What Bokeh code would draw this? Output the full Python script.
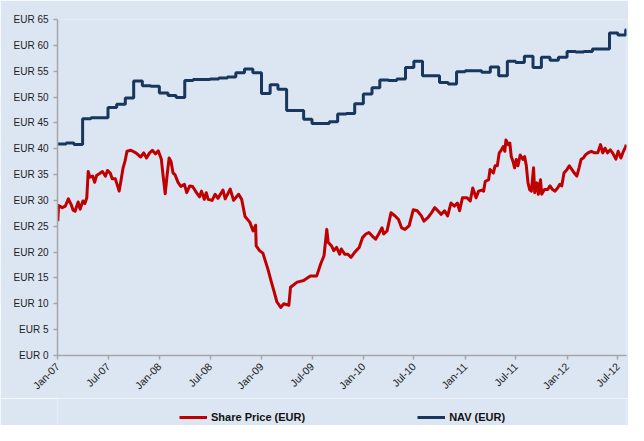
import math
import pandas as pd
from bokeh.plotting import figure
from bokeh.layouts import column
from bokeh.models import (ColumnDataSource, Range1d, FixedTicker, PrintfTickFormatter,
                          DatetimeTickFormatter, Legend, LegendItem)
from bokeh.embed import file_html
from bokeh.resources import INLINE

share_dates = [
    "2007-01-02", "2007-01-05", "2007-01-18", "2007-01-29", "2007-02-09", "2007-02-19", "2007-02-26",
    "2007-03-05", "2007-03-16", "2007-03-23", "2007-04-02", "2007-04-09", "2007-04-16", "2007-04-21",
    "2007-04-27", "2007-05-07", "2007-05-14", "2007-05-21", "2007-06-01", "2007-06-11", "2007-06-22",
    "2007-06-29", "2007-07-09", "2007-07-16", "2007-07-27", "2007-08-03", "2007-08-10", "2007-08-17",
    "2007-08-24", "2007-08-31", "2007-09-07", "2007-09-21", "2007-10-09", "2007-10-26", "2007-11-06",
    "2007-11-16", "2007-11-27", "2007-12-07", "2007-12-18", "2007-12-28",
    "2008-01-08", "2008-01-15", "2008-01-22", "2008-01-29", "2008-02-05", "2008-02-12", "2008-02-19",
    "2008-02-26", "2008-03-08", "2008-03-18", "2008-03-31", "2008-04-08", "2008-04-19", "2008-04-29",
    "2008-05-06", "2008-05-13", "2008-05-24", "2008-05-31", "2008-06-10", "2008-06-17", "2008-06-24",
    "2008-07-08", "2008-07-19", "2008-07-29", "2008-08-16", "2008-08-24", "2008-09-11", "2008-09-23",
    "2008-10-11", "2008-10-22", "2008-11-03", "2008-11-20", "2008-12-02", "2008-12-11", "2008-12-13",
    "2008-12-25",
    "2009-01-06", "2009-01-24", "2009-02-04", "2009-02-16", "2009-02-25", "2009-03-11", "2009-03-22",
    "2009-04-09", "2009-04-15", "2009-05-09", "2009-06-01", "2009-06-25", "2009-07-18", "2009-08-01",
    "2009-08-13", "2009-08-23", "2009-08-28", "2009-09-09", "2009-09-17", "2009-09-27", "2009-10-08",
    "2009-10-14", "2009-10-26", "2009-11-06", "2009-11-18", "2009-11-30", "2009-12-17", "2009-12-29",
    "2010-01-10", "2010-01-21", "2010-02-02", "2010-02-14", "2010-02-25", "2010-03-09", "2010-03-15",
    "2010-03-27", "2010-04-10", "2010-04-25", "2010-05-07", "2010-05-18", "2010-05-30", "2010-06-14",
    "2010-06-29", "2010-07-13", "2010-07-28", "2010-08-06", "2010-08-21", "2010-09-02", "2010-09-14",
    "2010-09-25", "2010-10-07", "2010-10-19", "2010-10-30", "2010-11-11", "2010-11-23", "2010-12-04",
    "2010-12-12", "2010-12-22",
    "2011-01-08", "2011-01-19", "2011-01-28", "2011-02-09", "2011-02-18", "2011-03-02", "2011-03-08",
    "2011-03-14", "2011-03-26", "2011-03-31", "2011-04-12", "2011-04-18", "2011-04-26", "2011-05-03",
    "2011-05-11", "2011-05-17", "2011-05-23", "2011-05-27", "2011-06-04", "2011-06-10", "2011-06-15",
    "2011-06-21", "2011-06-27", "2011-07-03", "2011-07-09", "2011-07-17", "2011-07-27", "2011-08-02",
    "2011-08-08", "2011-08-14", "2011-08-20", "2011-08-26", "2011-09-03", "2011-09-07", "2011-09-15",
    "2011-09-20", "2011-09-28", "2011-10-02", "2011-10-12", "2011-10-23", "2011-11-01", "2011-11-10",
    "2011-11-19", "2011-11-28", "2011-12-06", "2011-12-13", "2011-12-21",
    "2012-01-01", "2012-01-09", "2012-01-18", "2012-01-27", "2012-02-05", "2012-02-13", "2012-02-20",
    "2012-02-28", "2012-03-07", "2012-03-16", "2012-03-28", "2012-04-09", "2012-04-20", "2012-04-30",
    "2012-05-08", "2012-05-16", "2012-05-25", "2012-06-04", "2012-06-12", "2012-06-24", "2012-07-02",
    "2012-07-12", "2012-07-21", "2012-07-29", "2012-07-31",
]
share_values = [
    26.0, 29.0, 28.6, 28.9, 30.3, 29.2, 28.1,
    27.9, 29.7, 28.3, 29.9, 29.4, 30.5, 35.6,
    34.5, 34.7, 33.5, 34.8, 35.2, 35.6, 34.7,
    35.8, 35.3, 34.2, 34.2, 33.0, 31.8, 34.0,
    36.3, 37.6, 39.5, 39.7, 39.2, 38.4, 39.2,
    38.2, 39.2, 39.7, 39.0, 39.6,
    38.0, 34.5, 31.3, 35.0, 38.2, 37.5, 35.3,
    35.0, 33.5, 32.7, 33.1, 31.5, 32.8, 32.7,
    32.1, 31.5, 30.7, 31.8, 30.2, 31.5, 30.2,
    30.0, 31.2, 30.4, 32.0, 30.3, 32.2, 30.0,
    31.2, 30.2, 26.9, 25.8, 24.1, 25.2, 21.2,
    20.3,
    19.8, 16.7, 14.5, 12.2, 10.4, 9.3, 10.0,
    9.7, 13.2, 14.2, 14.5, 15.4, 15.4, 17.7,
    19.3, 24.4, 21.9, 21.2, 20.3, 20.9, 19.6,
    20.6, 19.6, 19.6, 19.0, 19.9, 20.9, 22.8,
    23.5, 23.8, 23.1, 22.5, 23.5, 24.7, 23.5,
    24.1, 27.6, 27.0, 26.3, 24.7, 24.4, 25.1,
    28.2, 28.0, 27.0, 26.0, 26.7, 27.6, 28.6,
    28.0, 27.3, 28.0, 27.0, 29.5, 28.9, 29.5,
    28.0, 30.5,
    30.5, 29.9, 32.4, 30.5, 31.8, 32.0, 31.8,
    33.7, 34.0, 36.0, 35.3, 36.7, 36.7, 39.2,
    39.8, 40.4, 39.5, 41.7, 40.8, 41.1, 38.5,
    37.6, 36.3, 37.9, 36.7, 38.8, 37.9, 38.5,
    36.7, 33.4, 32.1, 31.8, 36.3, 31.5, 33.4,
    31.2, 34.0, 31.2, 32.1, 32.1, 32.8, 32.1,
    31.8, 32.4, 33.1, 32.8, 35.3,
    36.0, 36.7, 36.0, 35.3, 34.7, 36.3, 37.9,
    38.2, 38.8, 39.2, 39.5, 39.2, 39.2, 40.8,
    39.2, 40.1, 39.2, 39.8, 39.2, 38.0, 39.5,
    38.2, 39.5, 40.4, 40.8,
]

nav_dates = (
    [f"{y}-{m:02d}-01" for y in range(2007, 2012) for m in range(1, 13)]
    + [f"2012-{m:02d}-01" for m in range(1, 8)]
    + ["2012-07-29", "2012-08-01"]
)
nav_values = [
    40.9, 41.1, 40.8, 45.8, 46.0, 46.0, 48.0, 48.6, 49.8, 53.1, 52.2, 52.1,
    50.8, 50.3, 49.9, 53.2, 53.4, 53.4, 53.5, 53.7, 53.9, 54.7, 55.4, 54.7,
    50.7, 52.4, 51.5, 47.4, 47.4, 45.7, 44.9, 44.9, 45.2, 46.7, 46.8, 48.7,
    50.6, 51.8, 53.3, 53.2, 53.5, 55.7, 56.9, 54.1, 54.1, 52.8, 52.5, 54.9,
    55.1, 55.1, 54.8, 55.8, 54.1, 56.9, 56.7, 57.9, 55.7, 57.7, 57.1, 57.7,
    58.8, 58.7, 58.8, 59.3, 59.3, 62.4, 62.0,
    63.0, 63.0,
]

x_tick_dates = ["2007-01-01", "2007-07-01", "2008-01-01", "2008-07-01", "2009-01-01",
                "2009-07-01", "2010-01-01", "2010-07-01", "2011-01-01", "2011-07-01",
                "2012-01-01", "2012-07-01"]
y_tick_values = [0, 5, 10, 15, 20, 25, 30, 35, 40, 45, 50, 55, 60, 65]

BG = "#DCE6F2"
RED = "#C00000"
NAVY = "#17375E"
AXIS = "#A6A6A6"
FONT = "Liberation Sans"

share_src = ColumnDataSource(dict(x=pd.to_datetime(share_dates), y=share_values))
nav_src = ColumnDataSource(dict(x=pd.to_datetime(nav_dates), y=nav_values))

x_rng = Range1d(pd.Timestamp("2007-01-01"), pd.Timestamp("2012-08-01"))
y_rng = Range1d(0, 65)

p = figure(width=628, height=398, output_backend="svg", toolbar_location=None,
           x_axis_type="datetime", x_range=x_rng, y_range=y_rng,
           min_border_left=57, min_border_right=2, min_border_top=19, min_border_bottom=41)
p.background_fill_color = BG
p.border_fill_color = BG
p.outline_line_color = None
p.xgrid.visible = False
p.ygrid.visible = False

p.step("x", "y", source=nav_src, mode="after", line_color=NAVY, line_width=3)
p.line("x", "y", source=share_src, line_color=RED, line_width=3, line_join="round")

tick_ms = [pd.Timestamp(d).value // 10**6 for d in x_tick_dates]
for ax in (p.xaxis[0], p.yaxis[0]):
    ax.axis_line_color = AXIS
    ax.axis_line_width = 1.5
    ax.major_tick_line_color = AXIS
    ax.major_tick_line_width = 1.5
    ax.major_tick_in = 0
    ax.major_tick_out = 4
    ax.minor_tick_line_color = None
    ax.major_label_text_font = FONT
    ax.major_label_text_color = "#222222"

p.xaxis[0].ticker = FixedTicker(ticks=tick_ms)
fmt = "%b-%y"
p.xaxis[0].formatter = DatetimeTickFormatter(days=fmt, months=fmt, years=fmt, hours=fmt,
                                             minutes=fmt, seconds=fmt, milliseconds=fmt,
                                             microseconds=fmt, hourmin=fmt, minsec=fmt)
p.xaxis[0].major_label_orientation = math.pi / 4
p.xaxis[0].major_label_standoff = 5
p.xaxis[0].major_label_text_font_size = "10.5px"

p.yaxis[0].ticker = FixedTicker(ticks=y_tick_values)
p.yaxis[0].formatter = PrintfTickFormatter(format="EUR %d")
p.yaxis[0].major_label_standoff = 5
p.yaxis[0].major_label_text_font_size = "10px"

# Legend strip below the chart (hidden copies of the series supply the legend glyphs)
q = figure(width=628, height=27, output_backend="svg", toolbar_location=None,
           x_axis_type="datetime", x_range=x_rng, y_range=y_rng,
           x_axis_location=None, y_axis_location=None,
           min_border_left=57, min_border_right=2, min_border_top=0, min_border_bottom=0)
q.background_fill_color = BG
q.border_fill_color = BG
q.outline_line_color = None
q.xgrid.visible = False
q.ygrid.visible = False
lr_share = q.line("x", "y", source=share_src, line_color=RED, line_width=3, visible=False)
lr_nav = q.step("x", "y", source=nav_src, mode="after", line_color=NAVY, line_width=3,
                visible=False)

legend = Legend(items=[LegendItem(label="Share Price (EUR)", renderers=[lr_share]),
                       LegendItem(label="NAV (EUR)", renderers=[lr_nav])],
                orientation="horizontal", location=(122, 2),
                spacing=112, glyph_width=28, glyph_height=12, label_standoff=4,
                label_text_font=FONT, label_text_font_size="11px",
                label_text_font_style="bold", label_text_color="#111111",
                background_fill_alpha=0, border_line_alpha=0,
                inactive_fill_alpha=0, padding=0, margin=0)
q.add_layout(legend)

layout = column(p, q, spacing=0)
open("out.html", "w").write(file_html(layout, INLINE))
